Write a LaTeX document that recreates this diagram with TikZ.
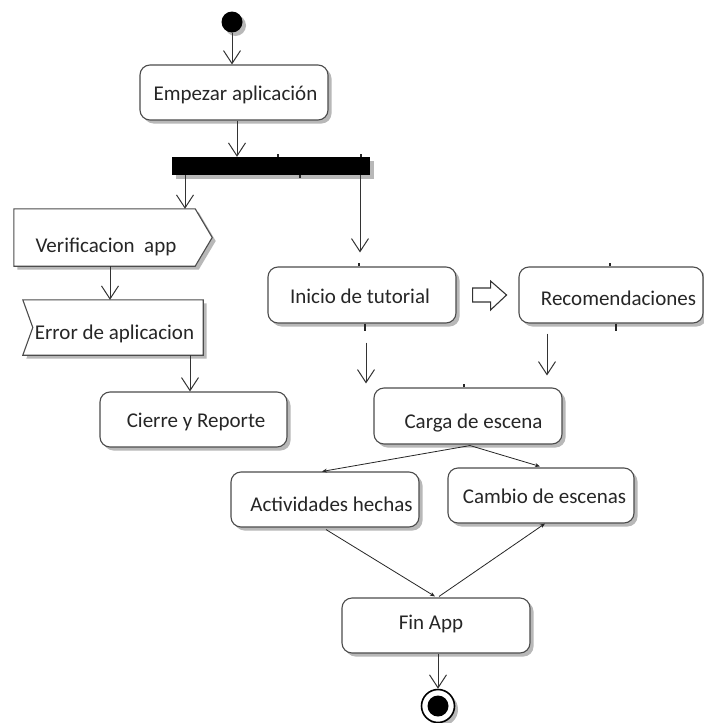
\documentclass[tikz,border=0pt]{standalone}
\usepackage{fontspec}
\setmainfont{Carlito}
\usetikzlibrary{arrows.meta,shadows,calc}

\tikzset{
  shade/.style={drop shadow={shadow xshift=3.5pt,shadow yshift=-3.5pt,fill=black!28,opacity=1}},
  actbox/.style={rectangle, rounded corners=10pt, draw=black!70, line width=1.1pt,
    fill=white, shade, inner sep=0pt},
  frame/.style={rectangle, inner sep=0pt},
  outline/.style={draw=black!70, line width=1.1pt, fill=white, shade},
  lbl/.style={font=\fontsize{21}{25}\selectfont, text=black!85, anchor=base, inner sep=0pt},
  flow/.style={draw=black!80, line width=1pt,
    -{Straight Barb[length=13pt,width=17pt,line width=1pt]}},
  slim/.style={draw=black!85, line width=0.8pt, -{Stealth[length=5pt,width=4pt]}},
  tickmark/.style={draw=black!85, line width=1.6pt},
}

\begin{document}
\begin{tikzpicture}[x=1pt,y=-1pt]
\fill[white] (0,0) rectangle (704,723);
\useasboundingbox (0,0) rectangle (704,723);

% initial node and fork bar
\node[circle, fill=black, minimum size=21pt, inner sep=0pt, shade] (start) at (232,22) {};
\node[actbox, minimum width=188pt, minimum height=55pt] (emp) at (234,92.5) {};
\node[rectangle, fill=black, minimum width=198pt, minimum height=18pt, inner sep=0pt,
  drop shadow={shadow xshift=4pt,shadow yshift=-4pt,fill=black!28,opacity=1}] (bar) at (271,166) {};

% signal shapes on the left branch
\node[frame, minimum width=198pt, minimum height=57pt] (ver) at (113,237.5) {};
\path[outline] (ver.north west) -- ($(ver.north east)+(-17,0)$) -- (ver.east)
  -- ($(ver.south east)+(-17,0)$) -- (ver.south west) -- cycle;
\node[frame, minimum width=180pt, minimum height=55pt] (err) at (113,327.5) {};
\path[outline] (err.north west) -- (err.north east) -- (err.south east)
  -- (err.south west) -- ($(err.west)+(10,0)$) -- cycle;
\node[actbox, minimum width=187pt, minimum height=55pt] (cie) at (193.5,419.5) {};

% right branch
\node[actbox, minimum width=188pt, minimum height=56pt] (ini) at (362,295) {};
\node[actbox, minimum width=184pt, minimum height=56pt] (rec) at (611,295) {};
\node[actbox, minimum width=188pt, minimum height=56pt] (car) at (468,416) {};
\node[actbox, minimum width=188pt, minimum height=55pt] (act) at (325,499.5) {};
\node[actbox, minimum width=186pt, minimum height=55pt] (cam) at (541,495.5) {};
\node[actbox, minimum width=188pt, minimum height=55pt] (fin) at (436,625.5) {};

% final node
\node[circle, draw=black, line width=1.6pt, fill=white, minimum size=33pt, inner sep=0pt, shade] (end) at (438,706) {};
\node[circle, fill=black, minimum size=21pt, inner sep=0pt] (endin) at (end) {};

% hollow block arrow between tutorial and recommendations
\path[draw=black!80, line width=1.1pt, fill=white]
  ($(ini.east)+(16,-7)$) -- ++(18,0) -- ++(0,-7) -- ++(16,14) -- ++(-16,15)
  -- ++(0,-8) -- ++(-18,0) -- cycle;

% labels
\node[lbl] at (235.5,100) {Empezar aplicación};
\node[lbl] at (106,252) {Verificacion\ \ app};
\node[lbl] at (114.5,339) {Error de aplicacion};
\node[lbl] at (196,427) {Cierre y Reporte};
\node[lbl] at (360,303) {Inicio de tutorial};
\node[lbl] at (618.5,305) {Recomendaciones};
\node[lbl] at (473.5,428) {Carga de escena};
\node[lbl] at (331.5,511) {Actividades hechas};
\node[lbl] at (544.5,503) {Cambio de escenas};
\node[lbl] at (431,629) {Fin App};

% control flows
\draw[flow] (start) -- (start |- emp.north);
\draw[flow] ([xshift=3pt]emp.south) -- ([xshift=3pt]emp.south |- bar.north);
\draw[flow] ([xshift=-86pt]bar.south) -- ([xshift=-86pt]bar.south |- ver.north);
\draw[flow] ([xshift=89pt]bar.south) -- ($([xshift=89pt]bar.south |- ini.north)+(0,-14)$);
\draw[flow] ([xshift=-3pt]ver.south) -- ([xshift=-3pt]ver.south |- err.north);
\draw[flow] ([xshift=77pt]err.south) -- ([xshift=77pt]err.south |- cie.north);
\draw[flow] ($(ini.south)+(4,19)$) -- ($(ini.south |- car.north)+(4,-4)$);
\draw[flow] ($(rec.south)+(-64,10)$) -- ($(rec.south |- car.north)+(-64,-12)$);
\coordinate (cj) at ($(car.south)+(2,1)$);
\draw[slim] (cj) -- ($(act.north)+(-3,0)$);
\draw[slim] (cj) -- ($(cam.north)+(-1,-1)$);
\draw[slim] ($(act.south)+(1,2)$) -- ($(fin.north)+(-1,-1)$);
\draw[slim] ($(fin.north)+(3,-1)$) -- ($(cam.south)+(4,0)$);
\draw[flow] ([xshift=2pt]fin.south) -- (end);

% small pin marks on the edges
\draw[tickmark] ([xshift=7pt]bar.north) -- ++(0,-3);
\draw[tickmark] ([xshift=90pt]bar.north) -- ++(0,-3);
\draw[tickmark] ([xshift=29pt]bar.south) -- ++(0,3);
\draw[tickmark] ([xshift=-3pt]ini.north) -- ++(0,-3);
\draw[tickmark] ([xshift=3pt]ini.south) -- ++(0,7);
\draw[tickmark] ([xshift=-1pt]rec.north) -- ++(0,-3);
\draw[tickmark] ([xshift=5pt]rec.south) -- ++(0,7);
\draw[tickmark] ([xshift=-4pt]car.north) -- ++(0,-3);
\end{tikzpicture}
\end{document}
